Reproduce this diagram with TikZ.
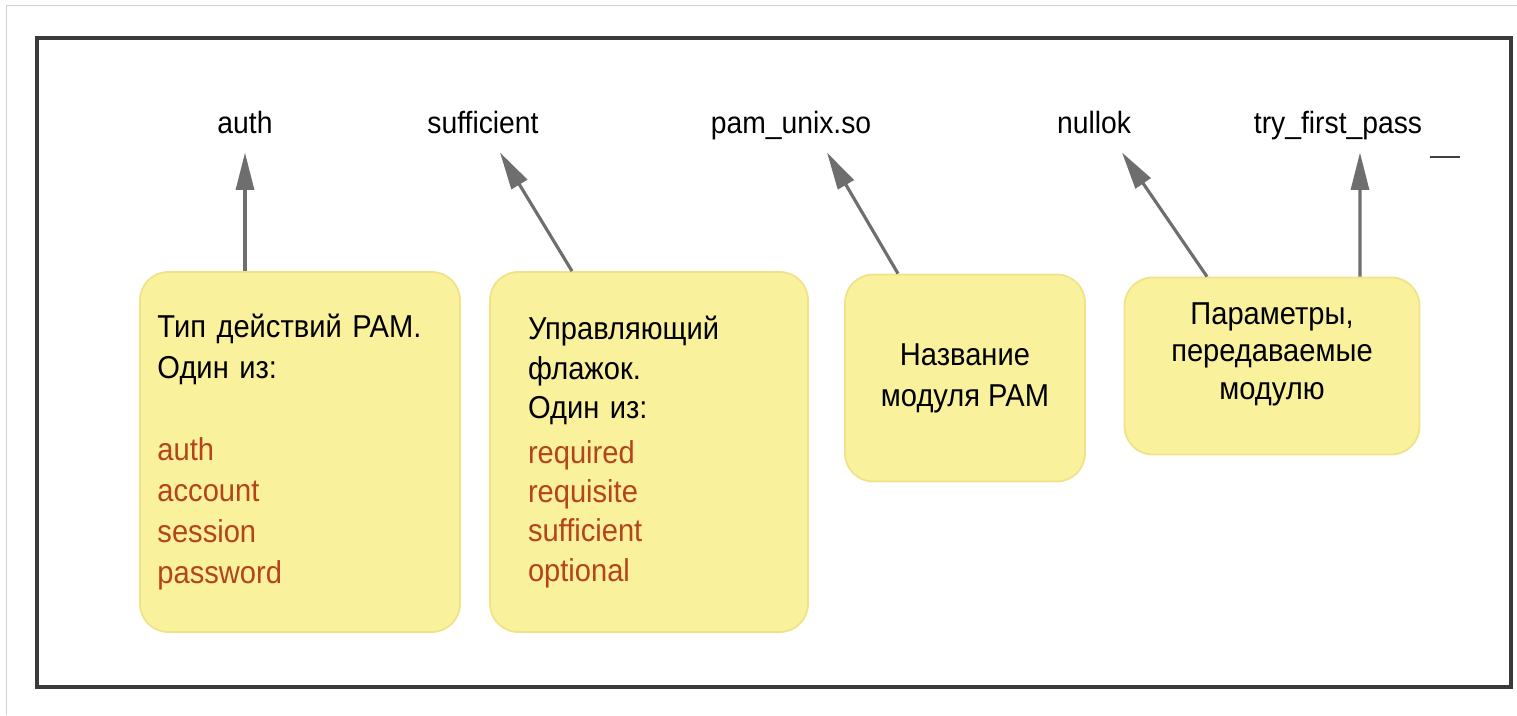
\documentclass[tikz,border=0pt]{standalone}
\usepackage{fontspec}
\setmainfont[FakeStretch=0.92]{Liberation Sans}
\usetikzlibrary{arrows.meta,calc}
\definecolor{noteyellow}{HTML}{FAF19C}
\definecolor{noteedge}{HTML}{EFE289}
\definecolor{listred}{HTML}{B4441C}
\definecolor{ptrgray}{HTML}{6E6E6E}
\definecolor{framegray}{HTML}{3A3A3A}

\begin{document}
\begin{tikzpicture}[scale=0.2]
    \tikzstyle{every node}+=[inner sep=0pt]
    \tikzstyle{lbl}=[font=\fontsize{17.5}{21}\selectfont, text depth=0pt]
    \tikzstyle{note}=[fill=noteyellow, draw=noteedge, line width=1pt, rounded corners=16pt, font=\fontsize{18}{23.3}\selectfont]
    \tikzstyle{ptr}=[draw=ptrgray, line width=1.8pt, -{Triangle[length=0.75cm, width=0.36cm]}]
    \useasboundingbox (0,0) rectangle (151.7,-71.5);
    \draw [gray!35] (0.6,-71.5) -- (0.6,-0.5) -- (151.7,-0.5);
    \draw [framegray, line width=2.2pt] (3.7,-3.8) rectangle (151.1,-68.7);
    % the line of the config file
    \node [lbl] (auth) at (24.5,-12.2) {auth};
    \node [lbl] (suff) at (48.3,-12.2) {sufficient};
    \node [lbl] (pamunix) at (79.1,-12.2) {pam\_unix.so};
    \node [lbl] (nullok) at (109.4,-12.2) {nullok};
    \node [lbl] (tfp) at (133.8,-12.2) {try\_first\_pass};
    \draw [black!75, line width=1.5pt] (143,-15.7) -- (146,-15.7);
    % notes
    \node [note, minimum width=6.4cm, minimum height=7.2cm, text width=5.7cm, align=left] (type) at (30,-45.2)
        {Тип действий PAM.\\
         Один из:\\[\baselineskip]
         \textcolor{listred}{auth}\\
         \textcolor{listred}{account}\\
         \textcolor{listred}{session}\\
         \textcolor{listred}{password}};
    \node [note, minimum width=6.36cm, minimum height=7.2cm, text width=4.84cm, align=left, font=\fontsize{18}{22.4}\selectfont] (flag) at (64.9,-45.2)
        {Управляющий\\
         флажок.\\
         Один из:\\[3pt]
         \textcolor{listred}{required}\\
         \textcolor{listred}{requisite}\\
         \textcolor{listred}{sufficient}\\
         \textcolor{listred}{optional}};
    \node [note, minimum width=4.8cm, minimum height=4.14cm, align=center] (modname) at (96.5,-37.8)
        {Название\\модуля PAM};
    \node [note, minimum width=5.9cm, minimum height=3.54cm, align=center, font=\fontsize{18}{21.2}\selectfont] (params) at (127.2,-36.6)
        {Параметры,\\передаваемые\\модулю\\[-4pt]};
    % pointers
    \draw [ptr] (type.north -| auth) -- ($(auth.south)+(0,-1.9)$);
    \draw [ptr] ($(flag.north)+(-7.7,0)$) -- ($(suff.south)+(1.7,-1.9)$);
    \draw [ptr] ($(modname.north)+(-6.7,0)$) -- ($(pamunix.south)+(3.6,-1.9)$);
    \draw [ptr] ($(params.north)+(-6.5,0)$) -- ($(nullok.south)+(2.8,-1.9)$);
    \draw [ptr] ($(params.north)+(8.8,0)$) -- ($(tfp.south)+(2.2,-1.9)$);
\end{tikzpicture}
\end{document}
